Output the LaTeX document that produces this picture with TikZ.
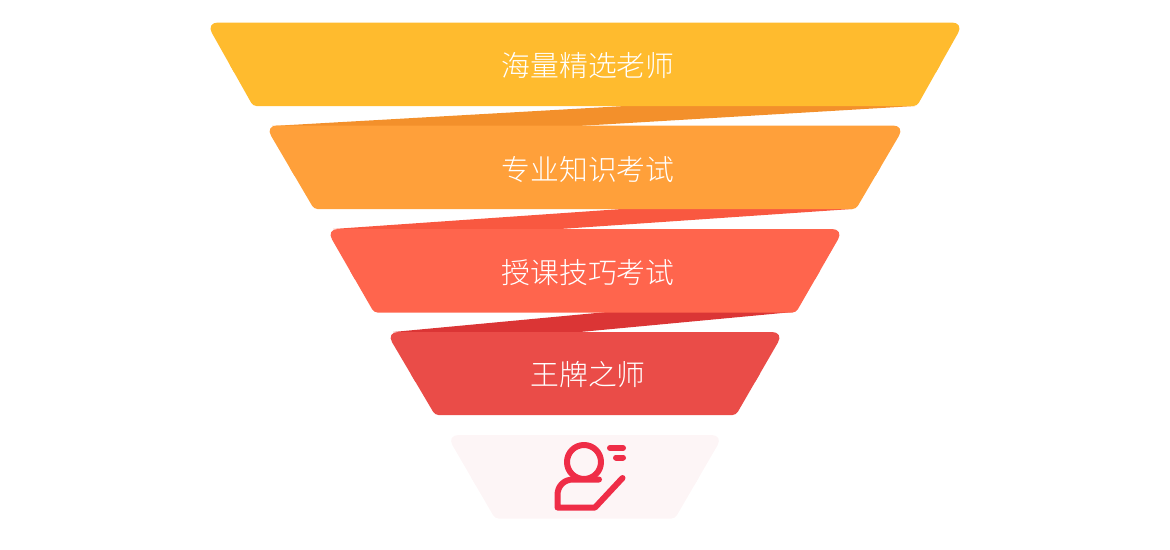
\documentclass[tikz,border=0pt]{standalone}
\usepackage{fontspec}
\usetikzlibrary{calc}
\setmainfont{Noto Sans CJK SC Light}

\definecolor{barone}{HTML}{FFBB2E}
\definecolor{bartwo}{HTML}{FFA03A}
\definecolor{barthree}{HTML}{FF654D}
\definecolor{barfour}{HTML}{EA4C48}
\definecolor{barfive}{HTML}{FDF5F6}
\definecolor{foldone}{HTML}{F3902B}
\definecolor{foldtwo}{HTML}{F95840}
\definecolor{foldthree}{HTML}{DB3535}
\definecolor{iconred}{HTML}{EF2D47}

\tikzset{
    topcorner/.style={rounded corners=12pt},
    botcorner/.style={rounded corners=3.5pt},
    barlabel/.style={text=white,inner sep=0pt,font=\fontsize{28.8}{30}\selectfont},
    iconline/.style={iconred,line width=6pt,line cap=round,line join=round}
}

\begin{document}
\begin{tikzpicture}[x=1pt,y=-1pt]
    
    % page size
    \useasboundingbox (0,0) rectangle (1170,549);
    
    % folds between the bars
    \fill[foldone] (272,126) -- (625,106) -- (915,106) -- (578,126) -- cycle;
    \fill[foldtwo] (333,229) -- (622,209) -- (852,209) -- (560,229) -- cycle;
    \fill[foldthree] (393,332) -- (607,312) -- (793,312) -- (580,332) -- cycle;
    
    % bars: top left, top right, bottom right, bottom left
    % upper and lower half apart, since their corners differ
    \foreach \col/\ytop/\ybot/\tl/\tr/\br/\bl in {
        barone/22.5/106/206/964/917/253,
        bartwo/125.5/209/265/905/856/314,
        barthree/229/312.5/326/844/796/374,
        barfour/332/415/386/784/736/435,
        barfive/435/518.5/446.5/723.5/675/495} {
        \fill[\col,topcorner] ($(\tl,\ytop)!.6!(\bl,\ybot)$) -- (\tl,\ytop) -- (\tr,\ytop) -- ($(\tr,\ytop)!.6!(\br,\ybot)$);
        \fill[\col,botcorner] ($(\tl,\ytop)!.5!(\bl,\ybot)$) -- (\bl,\ybot) -- (\br,\ybot) -- ($(\tr,\ytop)!.5!(\br,\ybot)$);
    }
    
    % bar labels
    \node[barlabel] (select) at (588,66) {海量精选老师};
    \node[barlabel] (exam) at (588,170) {专业知识考试};
    \node[barlabel] (teach) at (588,273) {授课技巧考试};
    \node[barlabel] (ace) at (588,375) {王牌之师};
    
    % teacher icon
    \draw[iconline] (584,462) circle (17);
    \draw[iconline] (599,479.5) -- (573,479.5) .. controls (564,479.5) and (557.5,486) .. (557.5,495) -- (557.5,507.5) -- (595,507.5) -- (622.5,478);
    \draw[iconred,line width=6pt,line cap=round] (610,448) -- (623,448);
    \draw[iconred,line width=6pt,line cap=round] (616,457.5) -- (623,457.5);
    
\end{tikzpicture}
\end{document}
